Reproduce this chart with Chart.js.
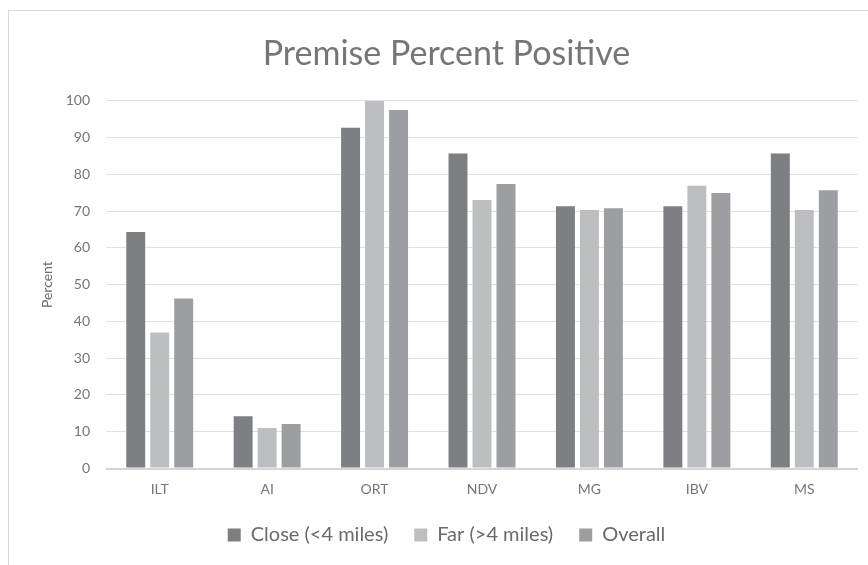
<!DOCTYPE html>
<html>
<head>
<meta charset="utf-8">
<script src="https://cdn.jsdelivr.net/npm/chart.js@4.4.1/dist/chart.umd.min.js"></script>
<style>
  html, body { margin: 0; padding: 0; background: #ffffff; }
  #wrap { position: relative; width: 868px; height: 565px; overflow: hidden; }
  #frame { position: absolute; left: 8px; top: 10px; width: 900px; height: 600px;
           border-left: 1px solid #d9d9d9; border-top: 1px solid #d9d9d9; box-sizing: border-box; }
  canvas { position: absolute; left: 0; top: 0; }
</style>
</head>
<body>
<div id="wrap">
  <div id="frame"></div>
  <canvas id="chart" width="868" height="565"></canvas>
</div>
<script>
// Diseases tested
const categories = ['ILT', 'AI', 'ORT', 'NDV', 'MG', 'IBV', 'MS'];

// Percent of premises testing positive
const closeValues   = [64.3, 14.2, 92.7, 85.7, 71.3, 71.3, 85.7];
const farValues     = [37.0, 11.0, 100.0, 73.0, 70.3, 76.9, 70.3];
const overallValues = [46.2, 12.1, 97.5, 77.4, 70.8, 74.9, 75.7];

const seriesNames = ['Close (<4 miles)', 'Far (>4 miles)', 'Overall'];
const seriesColors = ['#7e7f83', '#bdbec1', '#9d9ea2'];

const FONT = "Lato, 'Open Sans', sans-serif";

new Chart(document.getElementById('chart'), {
  type: 'bar',
  data: {
    labels: categories,
    datasets: [closeValues, farValues, overallValues].map((vals, i) => ({
      label: seriesNames[i],
      data: vals,
      backgroundColor: seriesColors[i],
      borderWidth: 0,
      barPercentage: 0.79,
      categoryPercentage: 0.67
    }))
  },
  options: {
    responsive: false,
    animation: false,
    layout: { padding: { left: 35, right: 10, top: 24, bottom: 10 } },
    plugins: {
      title: {
        display: true,
        text: 'Premise Percent Positive',
        color: '#767676',
        font: { family: FONT, size: 34, weight: 'normal' },
        padding: { top: 10, bottom: 26 }
      },
      legend: {
        position: 'bottom',
        labels: {
          color: '#6a6a6a',
          font: { family: FONT, size: 20 },
          boxWidth: 13,
          boxHeight: 13,
          padding: 26
        }
      },
      tooltip: { enabled: false }
    },
    scales: {
      x: {
        afterFit: (scale) => { scale.height = 30.5; },
        grid: { display: false, drawTicks: false },
        border: { display: false },
        ticks: { color: '#767676', font: { family: FONT, size: 14 }, padding: 13 }
      },
      y: {
        min: 0,
        max: 100,
        afterFit: (scale) => { scale.width = 71; },
        ticks: { stepSize: 10, color: '#767676', font: { family: FONT, size: 14 }, padding: 16 },
        grid: {
          drawTicks: false,
          color: (ctx) => ctx.tick && ctx.tick.value === 0 ? '#d4d4d4' : '#e0e0e0',
          lineWidth: (ctx) => ctx.tick && ctx.tick.value === 0 ? 2 : 1
        },
        border: { display: false },
        title: {
          display: true,
          text: 'Percent',
          color: '#6a6a6a',
          font: { family: FONT, size: 14 },
          padding: { top: 4, bottom: 4 }
        }
      }
    }
  }
});
</script>
</body>
</html>
